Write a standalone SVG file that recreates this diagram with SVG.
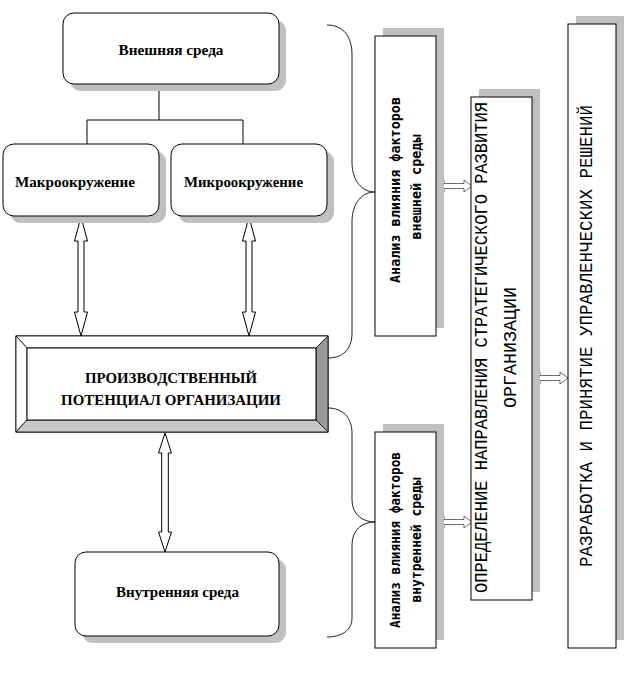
<svg xmlns="http://www.w3.org/2000/svg" width="625" height="696" viewBox="0 0 625 696">
<style>
.box{fill:#fff;stroke:#000;stroke-width:1}
.shadow{fill:#c0c0c0;stroke:none}
.lbl{font-weight:bold;font-size:15px;fill:#000}
.mono{font-size:13.5px;font-weight:bold;fill:#000}
.mono2{font-size:19px;fill:#000}
.arrow{fill:#fff;stroke:#000;stroke-width:1;stroke-linejoin:miter}
.sarrow{fill:#fff;stroke:#444;stroke-width:0.8}
.line{fill:none;stroke:#000;stroke-width:1}
.brace{fill:none;stroke:#222;stroke-width:1}
</style>
<rect width="625" height="696" fill="#fff"/>

<g id="connectors">
  <path class="line" d="M159,84 V120 M87,120 H243 M87,120 V144 M243,120 V144"/>
  <polygon class="arrow" points="81,217 87.5,241 84,241 84,312 87.5,312 81,336 74.5,312 78,312 78,241 74.5,241"/>
  <polygon class="arrow" points="249,217 255.5,241 252,241 252,312 255.5,312 249,336 242.5,312 246,312 246,241 242.5,241"/>
  <polygon class="arrow" points="165,433 171.5,453 168.3,453 168.3,532 171.5,532 165,552 158.5,532 161.7,532 161.7,453 158.5,453"/>
  <polygon class="sarrow" points="436,186 444,180 444,183.5 464,183.5 464,180 472,186 464,192 464,188.5 444,188.5 444,192"/>
  <polygon class="sarrow" points="436,522 444,516 444,519.5 464,519.5 464,516 472,522 464,528 464,524.5 444,524.5 444,528"/>
  <polygon class="sarrow" points="532,378 540,372 540,375.5 560,375.5 560,372 568,378 560,384 560,380.5 540,380.5 540,384"/>
  <path class="brace" d="M327,25 C343,25 352,36 352,55 L352,162 C352,181 362,192 375,192 C362,192 352,203 352,222 L352,333 C352,350 342,358 328,358"/>
  <path class="brace" d="M328,408 C343,408 352,418 352,433 L352,500 C352,514 362,522 375,522 C362,522 352,530 352,545 L352,618 C352,630 342,637 327,637"/>
</g>

<g id="vneshnyaya" font-family="Liberation Serif, DejaVu Serif, serif">
  <rect class="shadow" x="70" y="20" width="216" height="71" rx="11"/>
  <rect class="box" x="63" y="13" width="216" height="71" rx="11"/>
  <text class="lbl" x="171" y="55" text-anchor="middle" textLength="105" lengthAdjust="spacingAndGlyphs">Внешняя среда</text>
</g>

<g id="makro" font-family="Liberation Serif, DejaVu Serif, serif">
  <rect class="shadow" x="10" y="151" width="156" height="72" rx="11"/>
  <rect class="box" x="3" y="144" width="156" height="72" rx="11"/>
  <text class="lbl" x="15" y="187" textLength="120" lengthAdjust="spacingAndGlyphs">Макроокружение</text>
</g>

<g id="mikro" font-family="Liberation Serif, DejaVu Serif, serif">
  <rect class="shadow" x="178" y="151" width="156" height="72" rx="11"/>
  <rect class="box" x="171" y="144" width="156" height="72" rx="11"/>
  <text class="lbl" x="184" y="187" textLength="119" lengthAdjust="spacingAndGlyphs">Микроокружение</text>
</g>

<g id="potencial" font-family="Liberation Serif, DejaVu Serif, serif">
  <rect x="16" y="336" width="312" height="96" fill="#fff" stroke="#000"/>
  <polygon points="16,336 328,336 316,348 27,348" fill="#fff" stroke="#000" stroke-width="0.8"/>
  <polygon points="16,336 27,348 27,420 16,432" fill="#fff" stroke="#000" stroke-width="0.8"/>
  <polygon points="328,336 328,432 316,420 316,348" fill="#999" stroke="#000" stroke-width="0.8"/>
  <polygon points="16,432 328,432 316,420 27,420" fill="#c8c8c8" stroke="#000" stroke-width="0.8"/>
  <rect x="27" y="348" width="289" height="72" fill="#fff" stroke="#000"/>
  <text class="lbl" x="171" y="383" text-anchor="middle" textLength="172" lengthAdjust="spacingAndGlyphs">ПРОИЗВОДСТВЕННЫЙ</text>
  <text class="lbl" x="171" y="405" text-anchor="middle" textLength="220" lengthAdjust="spacingAndGlyphs">ПОТЕНЦИАЛ ОРГАНИЗАЦИИ</text>
</g>

<g id="vnutrennyaya" font-family="Liberation Serif, DejaVu Serif, serif">
  <rect class="shadow" x="82" y="559" width="204" height="84" rx="11"/>
  <rect class="box" x="75" y="552" width="204" height="84" rx="11"/>
  <text class="lbl" x="177.5" y="597" text-anchor="middle" textLength="123" lengthAdjust="spacingAndGlyphs">Внутренняя среда</text>
</g>

<g id="analiz-vnesh" font-family="DejaVu Sans Mono, Liberation Mono, monospace">
  <rect class="shadow" x="383" y="28" width="61" height="300"/>
  <rect class="box" x="375" y="36" width="61" height="300"/>
  <text class="mono" transform="translate(400,190) rotate(-90)" text-anchor="middle" textLength="186" lengthAdjust="spacingAndGlyphs">Анализ влияния факторов</text>
  <text class="mono" transform="translate(421,187) rotate(-90)" text-anchor="middle" textLength="105" lengthAdjust="spacingAndGlyphs">внешней среды</text>
</g>

<g id="analiz-vnutr" font-family="DejaVu Sans Mono, Liberation Mono, monospace">
  <rect class="shadow" x="383" y="424" width="61" height="216"/>
  <rect class="box" x="375" y="432" width="61" height="216"/>
  <text class="mono" transform="translate(400,540) rotate(-90)" text-anchor="middle" textLength="176" lengthAdjust="spacingAndGlyphs">Анализ влияния факторов</text>
  <text class="mono" transform="translate(421,540) rotate(-90)" text-anchor="middle" textLength="125" lengthAdjust="spacingAndGlyphs">внутренней среды</text>
</g>

<g id="napravleniya" font-family="Liberation Mono, DejaVu Sans Mono, monospace">
  <rect class="shadow" x="479" y="89" width="61" height="503"/>
  <rect class="box" x="471" y="97" width="61" height="503"/>
  <text class="mono2" transform="translate(487,347.5) rotate(-90)" text-anchor="middle" textLength="491" lengthAdjust="spacingAndGlyphs">ОПРЕДЕЛЕНИЕ НАПРАВЛЕНИЯ СТРАТЕГИЧЕСКОГО РАЗВИТИЯ</text>
  <text class="mono2" transform="translate(516,347.5) rotate(-90)" text-anchor="middle" textLength="121" lengthAdjust="spacingAndGlyphs">ОРГАНИЗАЦИИ</text>
</g>

<g id="razrabotka" font-family="Liberation Mono, DejaVu Sans Mono, monospace">
  <rect class="shadow" x="576" y="16" width="48" height="624"/>
  <rect class="box" x="568" y="24" width="48" height="624"/>
  <text class="mono2" transform="translate(592,336) rotate(-90)" text-anchor="middle" textLength="462" lengthAdjust="spacingAndGlyphs">РАЗРАБОТКА И ПРИНЯТИЕ УПРАВЛЕНЧЕСКИХ РЕШЕНИЙ</text>
</g>
</svg>
